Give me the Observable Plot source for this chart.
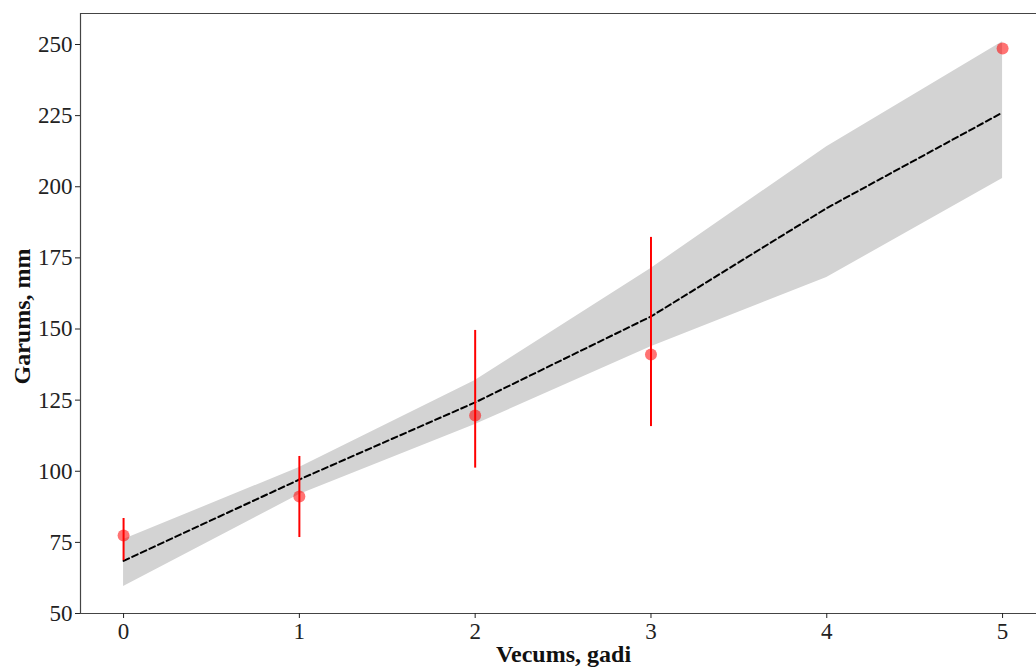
<!DOCTYPE html>
<html>
<head>
<meta charset="utf-8">
<script src="https://cdn.jsdelivr.net/npm/d3@7"></script>
<script src="https://cdn.jsdelivr.net/npm/@observablehq/plot@0.6"></script>
<style>
  html, body { margin: 0; padding: 0; background: #fff; overflow: hidden; }
</style>
</head>
<body>
<div id="chart"></div>
<script>
// Fitted model (dashed line) and its confidence band
const fitX = [0, 1, 2, 3, 4, 5];
const fitMean = [68.5, 97.1, 124.2, 154.4, 192.5, 226.1];
const bandLow = [59.5, 91.8, 116.4, 143.8, 168.1, 202.9];
const bandHigh = [76.0, 101.3, 131.9, 171.3, 214.1, 251.0];

// Observations (red points with error bars)
const obsX = [0, 1, 2, 3, 5];
const obsMean = [77.4, 91.1, 119.6, 141.0, 248.6];
const obsLow = [68.6, 76.7, 101.1, 115.7, 248.6];
const obsHigh = [83.4, 105.2, 149.5, 182.2, 248.6];

const xTicks = [0, 1, 2, 3, 4, 5];
const yTicks = [50, 75, 100, 125, 150, 175, 200, 225, 250];

const fit = fitX.map((x, i) => ({x, mean: fitMean[i], lo: bandLow[i], hi: bandHigh[i]}));
const obs = obsX.map((x, i) => ({x, mean: obsMean[i], lo: obsLow[i], hi: obsHigh[i]}));

const chart = Plot.plot({
  width: 1036,
  height: 668,
  marginLeft: 80,
  marginRight: 0,
  marginTop: 13,
  marginBottom: 55,
  style: {fontFamily: "'Liberation Serif', 'Times New Roman', serif", color: "#222", background: "#fff"},
  x: {domain: [-0.245, 5.193]},
  y: {domain: [50, 260.9]},
  marks: [
    Plot.areaY(fit, {x: "x", y1: "lo", y2: "hi", fill: "#d3d3d3"}),
    Plot.line(fit, {x: "x", y: "mean", stroke: "#000", strokeWidth: 2, strokeDasharray: "6,3.5"}),
    Plot.ruleX(obs.filter(d => d.hi > d.lo), {x: "x", y1: "lo", y2: "hi", stroke: "#ff0000", strokeWidth: 2}),
    Plot.dot(obs, {x: "x", y: "mean", r: 6, fill: "#ff0000", fillOpacity: 0.55, stroke: "none"}),
    Plot.ruleY([260.9], {stroke: "#444", strokeWidth: 1.2}),
    Plot.ruleY([50], {stroke: "#444", strokeWidth: 1.2}),
    Plot.ruleX([-0.245], {stroke: "#444", strokeWidth: 1.2}),
    Plot.axisX({ticks: xTicks, tickSize: 5, tickPadding: 4, fontSize: 23, label: null, tickFormat: d => String(d)}),
    Plot.axisY({ticks: yTicks, tickSize: 5, tickPadding: 3, fontSize: 23, label: null}),
    Plot.text(["Garums, mm"], {frameAnchor: "left", textAnchor: "middle", lineAnchor: "middle", dx: -58, dy: 3, rotate: -90, fontSize: 24, fontWeight: "bold", fill: "#111"}),
    Plot.text(["Vecums, gadi"], {frameAnchor: "bottom", textAnchor: "middle", lineAnchor: "middle", dx: 5, dy: 41, fontSize: 24, fontWeight: "bold", fill: "#111"})
  ]
});
document.getElementById("chart").appendChild(chart);
</script>
</body>
</html>
